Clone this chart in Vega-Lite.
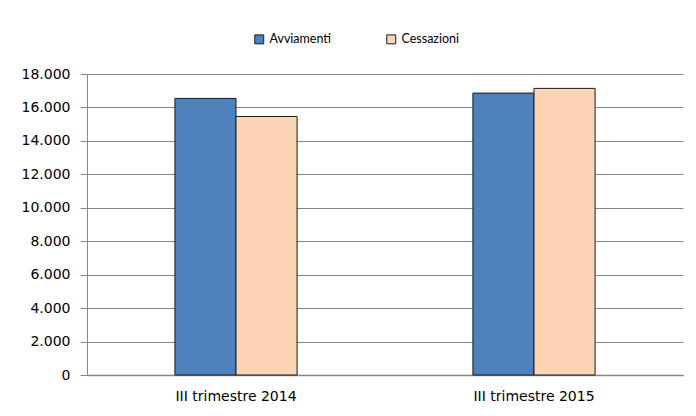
{
  "$schema": "https://vega.github.io/schema/vega-lite/v6.json",
  "width": 596,
  "height": 301,
  "autosize": {"type": "none"},
  "padding": {"left": 87, "top": 74, "right": 13, "bottom": 41},
  "background": "white",
  "config": {
    "locale": {"number": {"decimal": ",", "thousands": ".", "grouping": [3], "currency": ["€", ""]}},
    "view": {"stroke": null},
    "font": "DejaVu Sans"
  },
  "data": {
    "values": [
      {"periodo": "III trimestre 2014", "tipo": "Avviamenti", "valore": 16540},
      {"periodo": "III trimestre 2014", "tipo": "Cessazioni", "valore": 15460},
      {"periodo": "III trimestre 2015", "tipo": "Avviamenti", "valore": 16860},
      {"periodo": "III trimestre 2015", "tipo": "Cessazioni", "valore": 17140}
    ]
  },
  "mark": {"type": "bar", "stroke": "#1a1a1a", "strokeWidth": 1},
  "encoding": {
    "x": {
      "field": "periodo", "type": "nominal", "title": null,
      "scale": {"paddingInner": 0.59, "paddingOuter": 0.295},
      "axis": {"labelAngle": 0, "ticks": false, "labelPadding": 14, "labelFont": "DejaVu Sans", "labelFontSize": 14, "labelColor": "#000", "domainColor": "#868686", "domainWidth": 1.5, "grid": false}
    },
    "xOffset": {"field": "tipo", "type": "nominal", "scale": {"paddingInner": 0, "paddingOuter": 0}},
    "y": {
      "field": "valore", "type": "quantitative", "title": null,
      "scale": {"domain": [0, 18000], "nice": false},
      "axis": {"values": [0, 2000, 4000, 6000, 8000, 10000, 12000, 14000, 16000, 18000], "format": ",d", "labelFont": "DejaVu Sans", "labelFontSize": 14, "labelColor": "#000", "labelPadding": 10, "tickSize": 7, "tickColor": "#868686", "domainColor": "#868686", "gridColor": "#868686", "gridWidth": 1, "gridOpacity": 1}
    },
    "color": {
      "field": "tipo", "type": "nominal",
      "scale": {"domain": ["Avviamenti", "Cessazioni"], "range": ["#4F81BD", "#FCD5B5"]},
      "legend": {"title": null, "orient": "none", "direction": "horizontal", "legendX": 166, "legendY": -41, "symbolType": "square", "symbolSize": 80, "symbolStrokeColor": "#1a1a1a", "symbolStrokeWidth": 1, "labelFont": "Lato", "labelFontSize": 12.5, "labelColor": "#000", "columnPadding": 52, "labelOffset": 4}
    }
  }
}
